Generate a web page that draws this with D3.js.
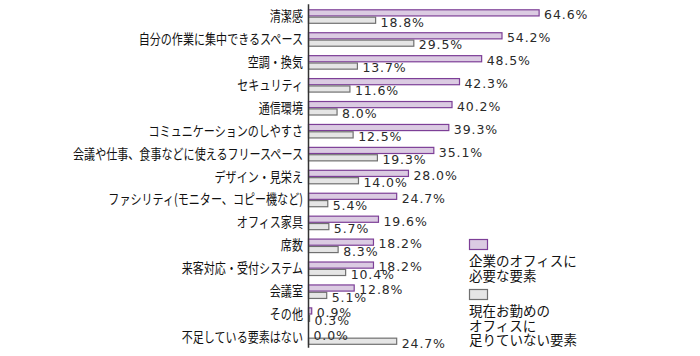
<!DOCTYPE html>
<html><head><meta charset="utf-8">
<script src="https://cdn.jsdelivr.net/npm/d3@7/dist/d3.min.js"></script>
<style>
html,body{margin:0;padding:0;background:#fff;}
svg{display:block;}
</style></head>
<body>
<svg id="chart" width="700" height="356"></svg>
<script>
const categories = ["清潔感","自分の作業に集中できるスペース","空調・換気","セキュリティ","通信環境","コミュニケーションのしやすさ","会議や仕事、食事などに使えるフリースペース","デザイン・見栄え","ファシリティ(モニター、コピー機など)","オフィス家具","席数","来客対応・受付システム","会議室","その他","不足している要素はない"];
const needed = [64.6,54.2,48.5,42.3,40.2,39.3,35.1,28.0,24.7,19.6,18.2,18.2,12.8,0.9,0.0];
const lacking = [18.8,29.5,13.7,11.6,8.0,12.5,19.3,14.0,5.4,5.7,8.3,10.4,5.1,0.3,24.7];
const seriesKeys = ["needed","lacking"];
const legendLabels = [["企業のオフィスに","必要な要素"],["現在お勤めの","オフィスに","足りていない要素"]];

const fills = {needed:"#dbcbe2", lacking:"#e5e5e5"};
const strokes = {needed:"#7d3f97", lacking:"#707070"};

const svg = d3.select("#chart");
const x0 = 308.5;
const x = d3.scaleLinear().domain([0,100]).range([x0, x0+357]);
const y = d3.scaleBand().domain(categories).range([9.3, 344.8]).paddingInner(0.368).paddingOuter(0);
const ySub = d3.scaleBand().domain(seriesKeys).range([0, y.bandwidth()]).paddingInner(0.03);

const rows = categories.map((c,i)=>({cat:c, needed:needed[i], lacking:lacking[i]}));

const g = svg.append("g");
const rowG = g.selectAll("g.row").data(rows).join("g").attr("class","row")
  .attr("transform", d=>`translate(0,${y(d.cat)})`);

rowG.selectAll("rect").data(d=>seriesKeys.map(k=>({k, v:d[k]}))).join("rect")
  .attr("x", x(0))
  .attr("y", d=>ySub(d.k)+0.5)
  .attr("width", d=>Math.max(0, x(d.v)-x(0)))
  .attr("height", ySub.bandwidth()-1)
  .attr("fill", d=>fills[d.k])
  .attr("stroke", d=>d.v>0?strokes[d.k]:"none")
  .attr("stroke-width", 1.2);

rowG.selectAll("text.val").data(d=>seriesKeys.map(k=>({k, v:d[k]}))).join("text")
  .attr("class","val")
  .attr("x", d=>x(d.v)+5)
  .attr("y", d=>ySub(d.k)+ySub.bandwidth()/2+6.3)
  .attr("font-family","DejaVu Sans, sans-serif")
  .attr("font-size",12.5)
  .attr("letter-spacing",0.9)
  .attr("fill","#2a2a2a")
  .text(d=>d.v.toFixed(1)+"%");

// axis with category labels
const axis = d3.axisLeft(y).tickSize(0).tickPadding(7);
const ax = svg.append("g").attr("transform",`translate(${x0},0)`).call(axis);
ax.select(".domain").remove();
ax.selectAll(".tick text")
  .attr("font-family","'Noto Sans CJK JP', sans-serif")
  .attr("font-size",14)
  .attr("fill","#111")
  .attr("transform","scale(0.79,1)");
svg.append("line")
  .attr("x1",x0).attr("x2",x0)
  .attr("y1",y.range()[0]-5).attr("y2",y.range()[1]+3)
  .attr("stroke","#333").attr("stroke-width",1.5);

// legend
const leg = svg.append("g").attr("transform","translate(469,239)");
const legOffsets = [0, 50];
seriesKeys.forEach((k,i)=>{
  const lg = leg.append("g").attr("transform",`translate(0,${legOffsets[i]})`);
  lg.append("rect").attr("x",0.5).attr("y",0.5).attr("width",18).attr("height",10)
    .attr("fill",fills[k]).attr("stroke",strokes[k]).attr("stroke-width",1.2);
  lg.selectAll("text").data(legendLabels[i]).join("text")
    .attr("x",0)
    .attr("y",(d,j)=>27+j*14.5)
    .attr("font-family","'Noto Sans CJK JP', sans-serif")
    .attr("font-size",13.5)
    .attr("fill","#111")
    .text(d=>d);
});
</script>
</body></html>
